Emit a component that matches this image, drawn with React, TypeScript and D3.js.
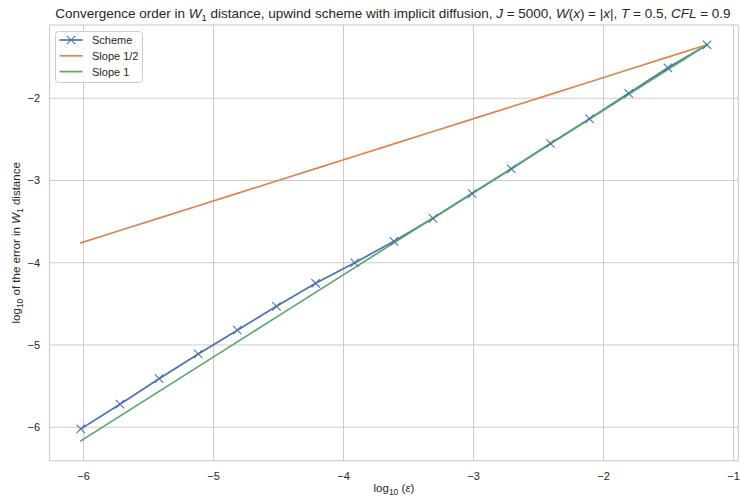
import React from "react";
import * as d3 from "d3";

const logEps: number[] = [-6.0206, -5.7196, -5.4185, -5.1175, -4.8165, -4.5154, -4.2144, -3.9134, -3.6124, -3.3113, -3.0103, -2.7093, -2.4082, -2.1072, -1.8062, -1.5051, -1.2041];
const logErr: number[] = [-6.02, -5.72, -5.41, -5.11, -4.82, -4.53, -4.25, -4.0, -3.74, -3.46, -3.16, -2.86, -2.55, -2.25, -1.94, -1.63, -1.35];
const xTicks: number[] = [-6, -5, -4, -3, -2, -1];
const yTicks: number[] = [-6, -5, -4, -3, -2];
const seriesNames: string[] = ["Scheme", "Slope 1/2", "Slope 1"];
const colors: string[] = ["#4C72B0", "#DD8452", "#55A868"];

const W = 741, H = 497;
const L = 49.5, R = 738.3, T = 25, B = 460.7;

export default function App() {
  const last = logEps.length - 1;
  const x0 = logEps[0], x1 = logEps[last], yEnd = logErr[last];
  const slopeHalf = logEps.map((e) => yEnd + 0.5 * (e - x1));
  const slopeOne = logEps.map((e) => yEnd + 1.0 * (e - x1));

  const allY = [...logErr, ...slopeHalf, ...slopeOne];
  const yMin = d3.min(allY)!, yMax = d3.max(allY)!;
  const xm = (x1 - x0) * 0.05, ym = (yMax - yMin) * 0.05;
  const x = d3.scaleLinear().domain([x0 - xm, x1 + xm]).range([L, R]);
  const y = d3.scaleLinear().domain([yMin - ym, yMax + ym]).range([B, T]);

  const line = d3.line<[number, number]>().x((d) => x(d[0])).y((d) => y(d[1]));
  const pts = (ys: number[]) => logEps.map((e, i) => [e, ys[i]] as [number, number]);

  const font = "'Liberation Sans', Arial, sans-serif";
  const txt = "#262626";
  const grid = "#cccccc";
  const ms = 4.2;

  const series = [logErr, slopeHalf, slopeOne];

  return (
    <svg width={W} height={H} style={{ position: "absolute", left: 0, top: 0, background: "#fff" }} fontFamily={font}>
      <rect x={0} y={0} width={W} height={H} fill="#fff" />
      {xTicks.map((t) => (
        <line key={"gx" + t} x1={x(t)} x2={x(t)} y1={T} y2={B} stroke={grid} strokeWidth={1} />
      ))}
      {yTicks.map((t) => (
        <line key={"gy" + t} x1={L} x2={R} y1={y(t)} y2={y(t)} stroke={grid} strokeWidth={1} />
      ))}
      <rect x={L} y={T} width={R - L} height={B - T} fill="none" stroke={grid} strokeWidth={1.1} />

      {series.map((s, i) => (
        <path key={"s" + i} d={line(pts(s)) || ""} fill="none" stroke={colors[i]} strokeWidth={1.7} strokeLinecap="square" />
      ))}
      {logEps.map((e, i) => (
        <path key={"m" + i} d={`M${x(e) - ms},${y(logErr[i]) - ms}L${x(e) + ms},${y(logErr[i]) + ms}M${x(e) - ms},${y(logErr[i]) + ms}L${x(e) + ms},${y(logErr[i]) - ms}`} stroke={colors[0]} strokeWidth={1.1} fill="none" />
      ))}

      {xTicks.map((t) => (
        <text key={"tx" + t} x={x(t)} y={480} textAnchor="middle" fontSize={11} fill={txt}>{"\u2212" + Math.abs(t)}</text>
      ))}
      {yTicks.map((t) => (
        <text key={"ty" + t} x={40} y={y(t) + 4} textAnchor="end" fontSize={11} fill={txt}>{"\u2212" + Math.abs(t)}</text>
      ))}

      <text x={(L + R) / 2 - 1} y={18} textAnchor="middle" fontSize={13.5} fill={txt}>
        <tspan>Convergence order in </tspan>
        <tspan fontStyle="italic">W</tspan>
        <tspan fontSize={9.5} dy={3}>1</tspan>
        <tspan dy={-3}> distance, upwind scheme with implicit diffusion, </tspan>
        <tspan fontStyle="italic">J</tspan>
        <tspan> = 5000, </tspan>
        <tspan fontStyle="italic">W</tspan>
        <tspan>(</tspan>
        <tspan fontStyle="italic">x</tspan>
        <tspan>) = |</tspan>
        <tspan fontStyle="italic">x</tspan>
        <tspan>|, </tspan>
        <tspan fontStyle="italic">T</tspan>
        <tspan> = 0.5, </tspan>
        <tspan fontStyle="italic">CFL</tspan>
        <tspan> = 0.9</tspan>
      </text>

      <text x={(L + R) / 2} y={492} textAnchor="middle" fontSize={11.5} fill={txt}>
        <tspan>log</tspan>
        <tspan fontSize={8.5} dy={2.5}>10</tspan>
        <tspan dy={-2.5}> (</tspan>
        <tspan fontStyle="italic">ε</tspan>
        <tspan>)</tspan>
      </text>

      <text transform={`translate(20,${(T + B) / 2}) rotate(-90)`} textAnchor="middle" fontSize={11.5} fill={txt}>
        <tspan>log</tspan>
        <tspan fontSize={8.5} dy={2.5}>10</tspan>
        <tspan dy={-2.5}> of the error in </tspan>
        <tspan fontStyle="italic">W</tspan>
        <tspan fontSize={8.5} dy={2.5}>1</tspan>
        <tspan dy={-2.5}> distance</tspan>
      </text>

      <rect x={55.5} y={31.5} width={87} height={51} rx={3} fill="#fff" fillOpacity={0.8} stroke={grid} strokeWidth={1} />
      {seriesNames.map((n, i) => {
        const yy = 40 + i * 15.8;
        return (
          <g key={"lg" + i}>
            <line x1={59.5} x2={82.5} y1={yy} y2={yy} stroke={colors[i]} strokeWidth={1.7} />
            {i === 0 && (
              <path d={`M${71 - ms},${yy - ms}L${71 + ms},${yy + ms}M${71 - ms},${yy + ms}L${71 + ms},${yy - ms}`} stroke={colors[0]} strokeWidth={1.1} />
            )}
            <text x={92} y={yy + 4} fontSize={11} fill={txt}>{n}</text>
          </g>
        );
      })}
    </svg>
  );
}
